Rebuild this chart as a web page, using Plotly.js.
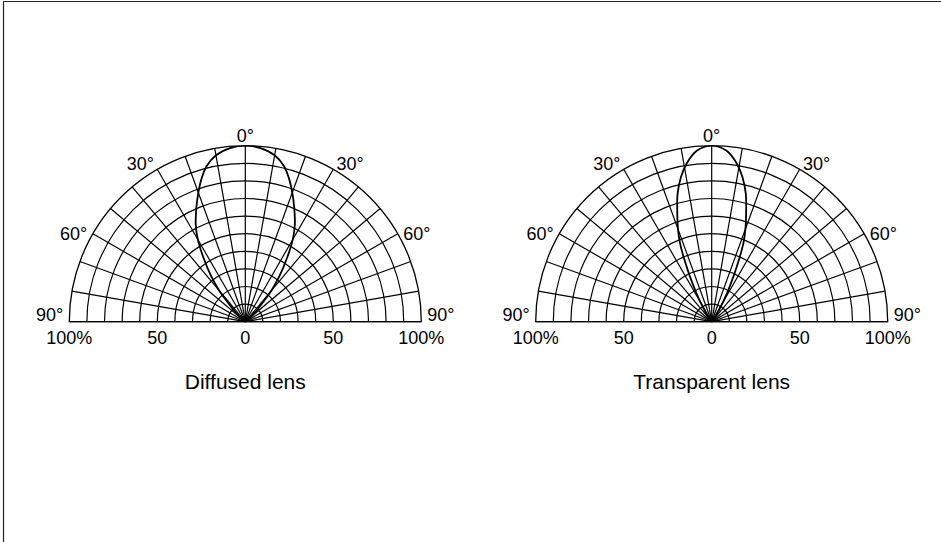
<!DOCTYPE html>
<html>
<head>
<meta charset="utf-8">
<script src="https://cdn.plot.ly/plotly-3.0.1.min.js"></script>
<style>
  html, body { margin: 0; padding: 0; background: #fff; }
  #chart { width: 941px; height: 542px; }
</style>
</head>
<body>
<div id="chart"></div>
<script>
// ---- data ----
var diffusedTheta = [-60, -50, -45, -42, -40, -37, -33, -30, -27, -23, -20, -17, -14, -10, -5, 0, 5, 10, 14, 17, 20, 23, 27, 30, 33, 37, 40, 42, 45, 50, 60];
var diffusedR     = [0, 3, 9, 16, 23, 32, 44, 54, 62, 71, 78, 85, 91, 96, 99, 100, 99, 96, 91, 85, 78, 71, 62, 54, 44, 32, 23, 16, 9, 3, 0];

var transparentTheta = [-45, -40, -35, -30, -27, -24, -22, -20, -17, -15, -12, -9, -5, 0, 5, 9, 12, 15, 17, 20, 22, 24, 27, 30, 35, 40, 45];
var transparentR     = [0, 1, 4, 13, 23, 37, 48, 56, 67, 75, 84, 91, 97.5, 100, 97.5, 91, 84, 75, 67, 56, 48, 37, 23, 13, 4, 1, 0];

var angleGridVals = [-90, -80, -70, -60, -50, -40, -30, -20, -10, 0, 10, 20, 30, 40, 50, 60, 70, 80, 90];
var angleLabelText = ['90°', '60°', '30°', '0°', '30°', '60°', '90°'];
var radialGridVals = [10, 20, 30, 40, 50, 60, 70, 80, 90, 100];
var scaleTickVals = [-100, -50, 0, 50, 100];
var scaleTickText = ['100%', '50', '0', '50', '100%'];
var panelTitles = ['Diffused lens', 'Transparent lens'];

// ---- layout helpers ----
var W = 941, H = 542, R = 176;
var centers = [[245.3, 321.7], [711.7, 321.7]];
// label anchor angles (90° labels sit just above the baseline, as in the reference)
var labelAngles = [-86, -60, -30, 0, 30, 60, 86];
var LABEL_GROW = 6;
function xdom(c, g) { g = g || 0; return [(c[0] - R - g) / W, (c[0] + R + g) / W]; }
function ydom(c, g) { g = g || 0; return [1 - (c[1] + g) / H, 1 - (c[1] + g - R - g) / H]; }

var FONT = 'Liberation Sans, Arial, Helvetica, sans-serif';
var tickFont = { family: FONT, size: 18, color: '#000' };

function gridPolar(c) {
  return {
    domain: { x: xdom(c), y: ydom(c) },
    sector: [0, 180],
    bgcolor: 'rgba(0,0,0,0)',
    radialaxis: {
      range: [0, 100], tickvals: radialGridVals, showticklabels: false,
      ticks: '', showline: false, gridcolor: '#000', gridwidth: 1.2
    },
    angularaxis: {
      rotation: 90, direction: 'clockwise', tickvals: angleGridVals, showticklabels: false,
      ticks: '', showline: true, linecolor: '#000', linewidth: 1.3,
      gridcolor: '#000', gridwidth: 1.2
    }
  };
}
function labelPolar(c) {
  return {
    domain: { x: xdom(c, LABEL_GROW), y: ydom(c, LABEL_GROW) },
    sector: [0, 180],
    bgcolor: 'rgba(0,0,0,0)',
    radialaxis: { range: [0, 100], visible: false, showgrid: false },
    angularaxis: {
      rotation: 90, direction: 'clockwise', tickvals: labelAngles, ticktext: angleLabelText,
      ticks: '', showline: false, showgrid: false, tickfont: tickFont
    }
  };
}

function scaleAxis(c, title) {
  return {
    domain: xdom(c), range: [-100, 100], tickvals: scaleTickVals, ticktext: scaleTickText,
    showgrid: false, zeroline: false, showline: false, ticks: '', fixedrange: true,
    anchor: 'free', position: ydom(c)[0], tickfont: tickFont, ticklabelstandoff: 3,
    title: { text: title, font: { family: FONT, size: 21, color: '#000' }, standoff: 27 }
  };
}

var data = [
  { type: 'scatterpolar', subplot: 'polar', theta: diffusedTheta, r: diffusedR, mode: 'lines',
    line: { color: '#000', width: 1.8, shape: 'spline', smoothing: 1 }, showlegend: false, hoverinfo: 'skip' },
  { type: 'scatterpolar', subplot: 'polar2', theta: transparentTheta, r: transparentR, mode: 'lines',
    line: { color: '#000', width: 1.8, shape: 'spline', smoothing: 1 }, showlegend: false, hoverinfo: 'skip' },
  { type: 'scatterpolar', subplot: 'polar3', theta: [], r: [], mode: 'lines', showlegend: false, hoverinfo: 'skip' },
  { type: 'scatterpolar', subplot: 'polar4', theta: [], r: [], mode: 'lines', showlegend: false, hoverinfo: 'skip' },
  { type: 'scatter', xaxis: 'x', yaxis: 'y', x: [scaleTickVals[0], scaleTickVals[4]], y: [0, 0], mode: 'none',
    showlegend: false, hoverinfo: 'skip' },
  { type: 'scatter', xaxis: 'x2', yaxis: 'y2', x: [scaleTickVals[0], scaleTickVals[4]], y: [0, 0], mode: 'none',
    showlegend: false, hoverinfo: 'skip' }
];

var layout = {
  width: W, height: H,
  margin: { l: 0, r: 0, t: 0, b: 0 },
  paper_bgcolor: '#fff', plot_bgcolor: 'rgba(0,0,0,0)',
  showlegend: false,
  polar: gridPolar(centers[0]),
  polar2: gridPolar(centers[1]),
  polar3: labelPolar(centers[0]),
  polar4: labelPolar(centers[1]),
  xaxis: scaleAxis(centers[0], panelTitles[0]),
  xaxis2: scaleAxis(centers[1], panelTitles[1]),
  yaxis: { domain: ydom(centers[0]), visible: false, range: [0, 1], fixedrange: true },
  yaxis2: { domain: ydom(centers[1]), visible: false, range: [0, 1], fixedrange: true, anchor: 'x2' },
  shapes: [
    { type: 'line', xref: 'paper', yref: 'paper', x0: 3.5 / W, x1: 1, y0: 1 - 1.5 / H, y1: 1 - 1.5 / H,
      line: { color: '#222', width: 1.2 } },
    { type: 'line', xref: 'paper', yref: 'paper', x0: 3.5 / W, x1: 3.5 / W, y0: 0, y1: 1 - 1.5 / H,
      line: { color: '#222', width: 1.2 } }
  ]
};

Plotly.newPlot('chart', data, layout, { staticPlot: true, displayModeBar: false });
</script>
</body>
</html>
